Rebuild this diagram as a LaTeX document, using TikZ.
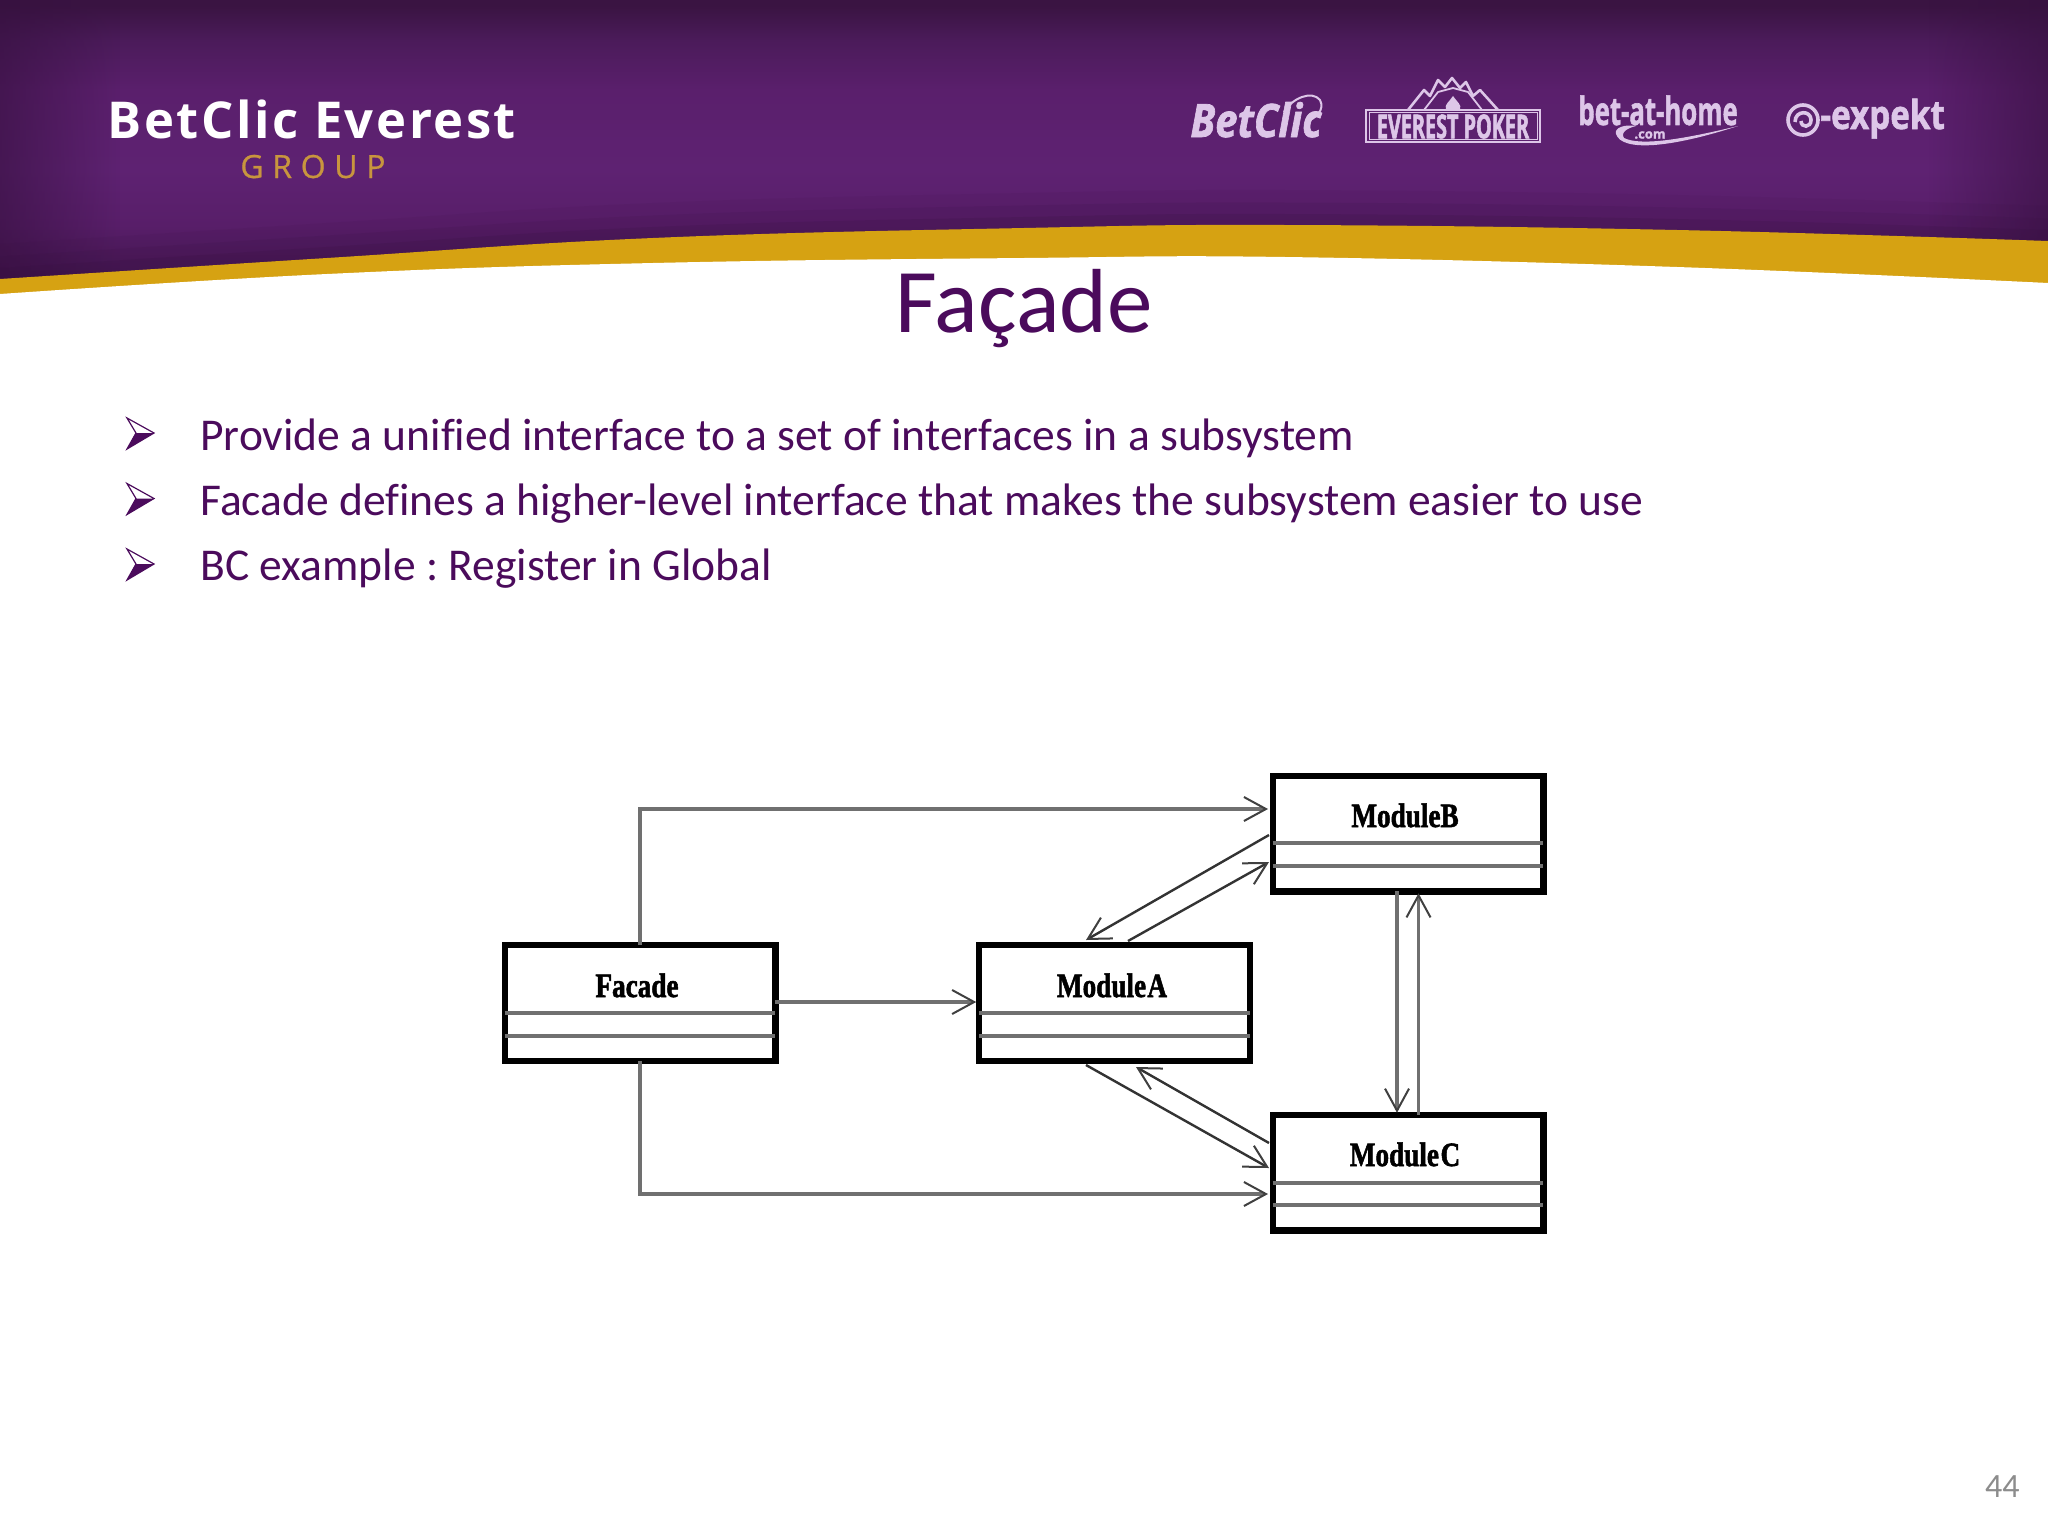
\documentclass[tikz,border=0pt]{standalone}
\usepackage{fontspec}
\usetikzlibrary{arrows.meta,fadings}
\setmainfont[Ligatures=NoCommon]{Carlito}
\newfontfamily\brandf[LetterSpace=5]{Open Sans}
\newfontfamily\groupf[LetterSpace=27,FakeBold=.7]{Open Sans}
\newfontfamily\logof[BoldFeatures={FakeBold=1.6},BoldItalicFeatures={FakeBold=1.6}]{Open Sans}
\newfontfamily\everf[FakeStretch=.6,BoldFeatures={FakeBold=1.6,FakeStretch=.6}]{Open Sans}
\newfontfamily\umlf[BoldFeatures={FakeBold=1.8}]{Liberation Serif}
\definecolor{slidepurple}{HTML}{4B0B5C}
\definecolor{gold}{HTML}{D6A212}
\definecolor{groupgold}{HTML}{C8953E}
\definecolor{lavender}{HTML}{DDC6E8}
\definecolor{edgedark}{HTML}{36103F}
\definecolor{lineGrey}{HTML}{707070}
\definecolor{hdrA}{HTML}{3A1442}
\definecolor{hdrB}{HTML}{4B1B5A}
\definecolor{hdrC}{HTML}{5A1F6C}
\definecolor{hdrD}{HTML}{5E2272}
\definecolor{hdrE}{HTML}{581E69}
\definecolor{hdrF}{HTML}{40154C}
\pgfdeclareverticalshading{hdrshade}{100bp}{
  color(0bp)=(hdrF);color(25bp)=(hdrF);color(37.5bp)=(hdrE);color(46.7bp)=(hdrD);color(60bp)=(hdrC);color(68.3bp)=(hdrB);color(74bp)=(hdrA);color(100bp)=(hdrA)}
\tikzset{
  x=.5pt,y=-.5pt,
  classbox/.style={draw=black,fill=white,line width=3.2pt,minimum width=135.3pt,minimum height=57.8pt,inner sep=0,outer sep=0},
  compart/.style={draw=lineGrey,line width=2pt},
  umllabel/.style={anchor=base,inner sep=0,font=\umlf\bfseries\fontsize{17}{17}\selectfont},
  link/.style={draw=lineGrey,line width=1.7pt,-{Straight Barb[length=11pt,width=12pt,line width=1pt,black!75]}},
  diaglink/.style={draw=black!80,line width=1.2pt,-{Straight Barb[length=11pt,width=12pt,line width=1pt,black!75]}},
  bodyline/.style={anchor=base west,inner sep=0,text=slidepurple,font=\fontsize{22.76}{24}\selectfont\frenchspacing},
  logotext/.style={inner sep=0,text=lavender},
  bulletmark/.pic={
    \fill[slidepurple] (154,433) -- (127,449) -- (136,433) -- cycle;
    \draw[slidepurple,line width=.6pt,line join=miter] (154,433) -- (127,418) -- (136,433) -- (127,449) -- cycle;
  }
}
\def\topcurve{(0,279) (327,258) (653,238) (1024,228) (1285,225) (1677,230) (2048,241)}
\def\botcurve{(0,294) (327,274) (653,263) (1024,258) (1285,257) (1677,267) (2048,283)}
\begin{document}
\begin{tikzpicture}
\useasboundingbox (0,0) rectangle (2048,1536);
\fill[white] (0,0) rectangle (2048,1536);
% header band
\shade[shading=hdrshade] (0,0) rectangle (2048,300);
\fill[edgedark,opacity=.6,path fading=east] (0,0) rectangle (120,300);
\fill[edgedark,opacity=.6,path fading=west] (1928,0) rectangle (2048,300);
\foreach \w/\o in {70/.08,45/.12,22/.18}
  \draw[edgedark,line width=\w*.5pt,opacity=\o] plot[smooth,tension=.7] coordinates {\topcurve};
\fill[gold] plot[smooth,tension=.7] coordinates {\topcurve} -- (2048,320) -- (0,320) -- cycle;
\fill[white] plot[smooth,tension=.7] coordinates {\botcurve} -- (2048,340) -- (0,340) -- cycle;
% brand
\node[anchor=base west,inner sep=0,text=white,font=\brandf\bfseries\fontsize{25.4}{26}\selectfont] (brand) at (107,139) {BetClic Everest};
\node[anchor=base west,inner sep=0,text=groupgold,font=\groupf\fontsize{16}{16}\selectfont] (grp) at (240,178) {GROUP};
% logos
\node[logotext,anchor=base west,font=\logof\bfseries\itshape\fontsize{23}{23}\selectfont] (lbet) at (1190,137) {\scalebox{.87}[1]{BetClic}};
\draw[lavender,line width=1pt] (1284,112) .. controls (1292,98) and (1312,90) .. (1320,100) .. controls (1325,110) and (1316,118) .. (1306,122);
\draw[lavender,line width=1.2pt] (1366,110) rectangle (1540,142);
\draw[lavender,line width=.5pt] (1369,113) rectangle (1537,139);
\node[logotext,font=\everf\bfseries\fontsize{16.5}{17}\selectfont] (lever) at (1453,126.5) {EVEREST POKER};
\draw[lavender,line width=1.3pt,line join=round] (1408,110) -- (1424,90) -- (1430,96) -- (1438,80) -- (1445,87) -- (1452,78) -- (1460,88) -- (1466,82) -- (1473,96) -- (1480,90) -- (1498,110);
\draw[lavender,line width=.9pt,line join=round] (1424,110) -- (1438,92) -- (1453,88) -- (1468,92) -- (1482,110);
\fill[lavender] (1453,96) .. controls (1449,102) and (1444,105) .. (1446,109) -- (1460,109) .. controls (1462,105) and (1457,102) .. (1453,96) -- cycle;
\node[logotext,anchor=base west,font=\logof\bfseries\fontsize{19.5}{20}\selectfont] (lhome) at (1578,125) {\scalebox{.66}[1]{bet-at-home}};
\node[logotext,font=\logof\bfseries\fontsize{6.5}{7}\selectfont] (lcom) at (1650,135) {.com};
\fill[lavender] (1616,134) .. controls (1622,152) and (1670,148) .. (1738,126) .. controls (1680,140) and (1640,146) .. (1624,138) .. controls (1620,132) and (1628,128) .. (1636,126) .. controls (1624,124) and (1614,128) .. (1616,134) -- cycle;
\draw[lavender,line width=1.8pt] (1803,120) circle[radius=15];
\draw[lavender,line width=1.8pt] (1795,122) .. controls (1795,110) and (1811,110) .. (1811,120) .. controls (1811,128) and (1801,128) .. (1801,121);
\node[logotext,anchor=base west,font=\logof\bfseries\fontsize{20}{20}\selectfont] (lexp) at (1820,129) {\scalebox{.83}[1]{-expekt}};
% title
\node[anchor=base,inner sep=0,text=slidepurple,font=\fontsize{45.5}{46}\selectfont] (title) at (1024,332) {Façade};
% bullets
\pic at (0,0) {bulletmark};
\pic at (0,65.5) {bulletmark};
\pic at (0,131) {bulletmark};
\node[bodyline] (b1) at (200,450) {Provide a unified interface to a set of interfaces in a subsystem};
\node[bodyline] (b2) at (200,515.5) {Facade defines a higher-level interface that makes the subsystem easier to use};
\node[bodyline] (b3) at (200,580.5) {BC example : Register in Global};
% classes
\node[classbox] (facade) at (640,1003) {};
\node[classbox] (modA) at (1114.5,1003) {};
\node[classbox] (modB) at (1408,833.5) {};
\node[classbox] (modC) at (1408,1172.5) {};
\node[umllabel] (lfac) at (637,997) {\scalebox{.8}[1]{Facade}};
\node[umllabel] (lmA) at (1112,997) {\scalebox{.8}[1]{Module\kern.8pt A}};
\node[umllabel] (lmB) at (1405,827) {\scalebox{.8}[1]{ModuleB}};
\node[umllabel] (lmC) at (1405,1166) {\scalebox{.8}[1]{Module\kern1pt C}};
\coordinate (f1) at (0,1013); \coordinate (f2) at (0,1036);
\coordinate (b1y) at (0,843); \coordinate (b2y) at (0,866);
\coordinate (c1y) at (0,1183); \coordinate (c2y) at (0,1205);
\draw[compart] (facade.west |- f1) -- (facade.east |- f1);
\draw[compart] (facade.west |- f2) -- (facade.east |- f2);
\draw[compart] (modA.west |- f1) -- (modA.east |- f1);
\draw[compart] (modA.west |- f2) -- (modA.east |- f2);
\draw[compart] (modB.west |- b1y) -- (modB.east |- b1y);
\draw[compart] (modB.west |- b2y) -- (modB.east |- b2y);
\draw[compart] (modC.west |- c1y) -- (modC.east |- c1y);
\draw[compart] (modC.west |- c2y) -- (modC.east |- c2y);
% connectors
\coordinate (toB) at (1268,809);
\coordinate (toC) at (1268,1194);
\coordinate (aY) at (0,1002);
\coordinate (baOut) at (1269,835);
\coordinate (baIn) at (1086,940);
\coordinate (abOut) at (1128,941);
\coordinate (abIn) at (1269,862);
\coordinate (acOut) at (1086,1065);
\coordinate (acIn) at (1269,1168);
\coordinate (caOut) at (1269,1143);
\coordinate (caIn) at (1136,1067);
\coordinate (bcX) at (1397,1000);
\coordinate (cbX) at (1418.5,1000);
\draw[link] (facade.north) |- (toB);
\draw[link] (facade.south) |- (toC);
\draw[link] (facade.east |- aY) -- ([xshift=-1.5pt]modA.west |- aY);
\draw[diaglink] (baOut) -- (baIn);
\draw[diaglink] (abOut) -- (abIn);
\draw[diaglink] (acOut) -- (acIn);
\draw[diaglink] (caOut) -- (caIn);
\draw[link] (modB.south -| bcX) -- ([yshift=1pt]modC.north -| bcX);
\draw[link] (modC.north -| cbX) -- ([yshift=-1pt]modB.south -| cbX);
% page number
\node[anchor=base east,inner sep=0,text=black!45,font=\fontsize{17}{17}\selectfont] (pg) at (2020,1497) {44};
\end{tikzpicture}
\end{document}
